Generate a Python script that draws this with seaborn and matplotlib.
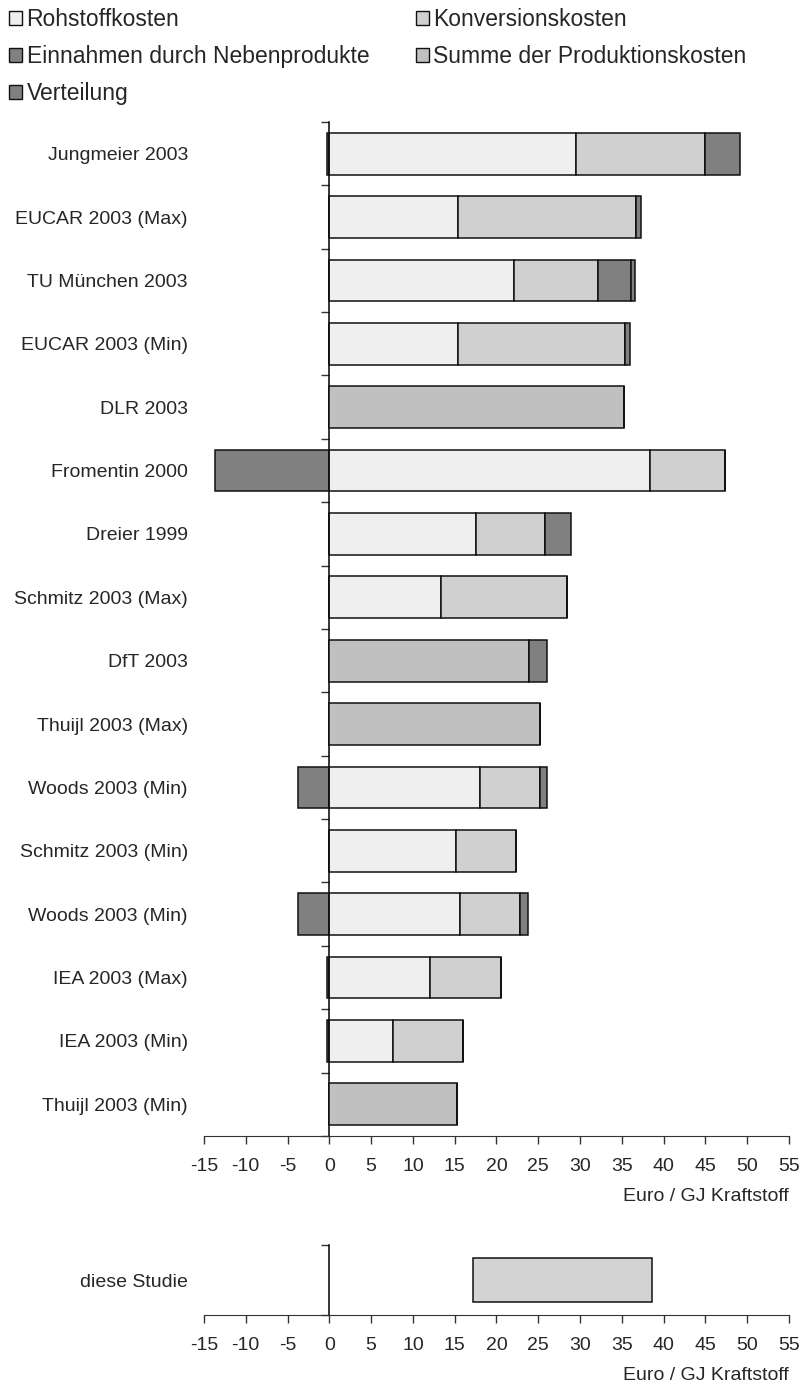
import numpy as np
import pandas as pd
import seaborn as sns
import matplotlib.pyplot as plt
from matplotlib.patches import Patch

# Kosten je Studie in Euro / GJ Kraftstoff (Segmentlängen)
studien = ['Jungmeier 2003', 'EUCAR 2003 (Max)', 'TU München 2003', 'EUCAR 2003 (Min)',
           'DLR 2003', 'Fromentin 2000', 'Dreier 1999', 'Schmitz 2003 (Max)',
           'DfT 2003', 'Thuijl 2003 (Max)', 'Woods 2003 (Min)', 'Schmitz 2003 (Min)',
           'Woods 2003 (Min)', 'IEA 2003 (Max)', 'IEA 2003 (Min)', 'Thuijl 2003 (Min)']
rohstoff = [29.5, 15.4, 22.1, 15.4, 0, 38.4, 17.6, 13.4, 0, 0, 18.0, 15.2, 15.6, 12.1, 7.6, 0]
konversion = [15.5, 21.3, 10.1, 20.0, 0, 9.0, 8.2, 15.1, 0, 0, 7.2, 7.1, 7.2, 8.4, 8.4, 0]
summe = [0, 0, 0, 0, 35.3, 0, 0, 0, 23.9, 25.2, 0, 0, 0, 0, 0, 15.3]
einnahmen = [-0.3, 0, 3.85, 0, 0, -13.7, 0, 0, 0, 0, -3.7, 0, -3.7, -0.3, -0.3, 0]
verteilung = [4.1, 0.6, 0.55, 0.6, 0, 0, 3.1, 0, 2.1, 0, 0.9, 0, 1.0, 0, 0, 0]

studie_min = 17.2
studie_max = 38.6

farben = {'Rohstoffkosten': '#efefef', 'Konversionskosten': '#d0d0d0',
          'Einnahmen durch Nebenprodukte': '#808080',
          'Summe der Produktionskosten': '#c0c0c0', 'Verteilung': '#808080'}

sns.set_style('white')
plt.rcParams['font.family'] = ['Liberation Sans', 'DejaVu Sans']
plt.rcParams['axes.unicode_minus'] = False

df = pd.DataFrame({'pos': range(len(studien)), 'roh': rohstoff, 'konv': konversion,
                   'summe': summe, 'einn': einnahmen, 'vert': verteilung})
einn_neg = np.minimum(df['einn'].values, 0)
einn_pos = np.maximum(df['einn'].values, 0)
kosten = df['roh'].values + df['konv'].values + df['summe'].values

fig = plt.figure(figsize=(8.03, 13.83), dpi=100)
ax = fig.add_axes([0.254, 0.1786, 0.7285, 0.7332])

bar_kw = dict(y='pos', orient='y', width=0.66, saturation=1, edgecolor='#111111',
              linewidth=1.1, errorbar=None, ax=ax)
sns.barplot(data=df.assign(w=einn_neg), x='w', left=np.zeros(len(df)),
            color=farben['Einnahmen durch Nebenprodukte'], **bar_kw)
sns.barplot(data=df, x='roh', left=np.zeros(len(df)), color=farben['Rohstoffkosten'], **bar_kw)
sns.barplot(data=df, x='konv', left=df['roh'].values, color=farben['Konversionskosten'], **bar_kw)
sns.barplot(data=df, x='summe', left=np.zeros(len(df)),
            color=farben['Summe der Produktionskosten'], **bar_kw)
sns.barplot(data=df.assign(w=einn_pos), x='w', left=kosten,
            color=farben['Einnahmen durch Nebenprodukte'], **bar_kw)
sns.barplot(data=df, x='vert', left=kosten + einn_pos, color=farben['Verteilung'], **bar_kw)

xticks = np.arange(-15, 56, 5)


def style_axis(a, n):
    a.set_xlim(-15, 55)
    a.set_xticks(xticks)
    a.set_xticklabels([str(t) for t in xticks])
    for s in ['top', 'right', 'left']:
        a.spines[s].set_visible(False)
    a.spines['bottom'].set_color('#333333')
    a.tick_params(axis='x', direction='out', length=6, width=1, color='#333333',
                  labelsize=14, pad=10, bottom=True)
    a.tick_params(axis='y', length=0, labelsize=14, pad=11.5)
    a.set_ylabel('')
    a.set_xlabel('Euro / GJ Kraftstoff', loc='right', fontsize=14, labelpad=9)
    zero = a.secondary_yaxis(15 / 70)
    zero.set_yticks(np.arange(-0.5, n, 1))
    zero.tick_params(labelleft=False, length=6, width=1, color='#333333')
    zero.spines['left'].set_color('black')
    zero.spines['left'].set_linewidth(1.1)


ax.set_yticks(range(len(studien)))
ax.set_yticklabels(studien)
style_axis(ax, len(studien))

# diese Studie
ax2 = fig.add_axes([0.254, 0.04917, 0.7285, 0.0506])
sns.barplot(x=[studie_max - studie_min], y=['diese Studie'], orient='y', left=[studie_min],
            width=0.63, saturation=1, color='#d3d3d3', edgecolor='#111111', linewidth=1.1,
            errorbar=None, ax=ax2)
style_axis(ax2, 1)

reihenfolge = ['Rohstoffkosten', 'Einnahmen durch Nebenprodukte', 'Verteilung',
               'Konversionskosten', 'Summe der Produktionskosten']
handles = [Patch(facecolor=farben[k], edgecolor='#111111', linewidth=1) for k in reihenfolge]
fig.legend(handles, reihenfolge, loc='upper left', bbox_to_anchor=(0.006, 0.9975), ncol=2,
           frameon=False, fontsize=16.5, handlelength=0.55, handleheight=0.55,
           handletextpad=0.2, columnspacing=2.05, labelspacing=0.61, borderpad=0.2,
           borderaxespad=0)

fig.savefig('out.png', dpi=100)
